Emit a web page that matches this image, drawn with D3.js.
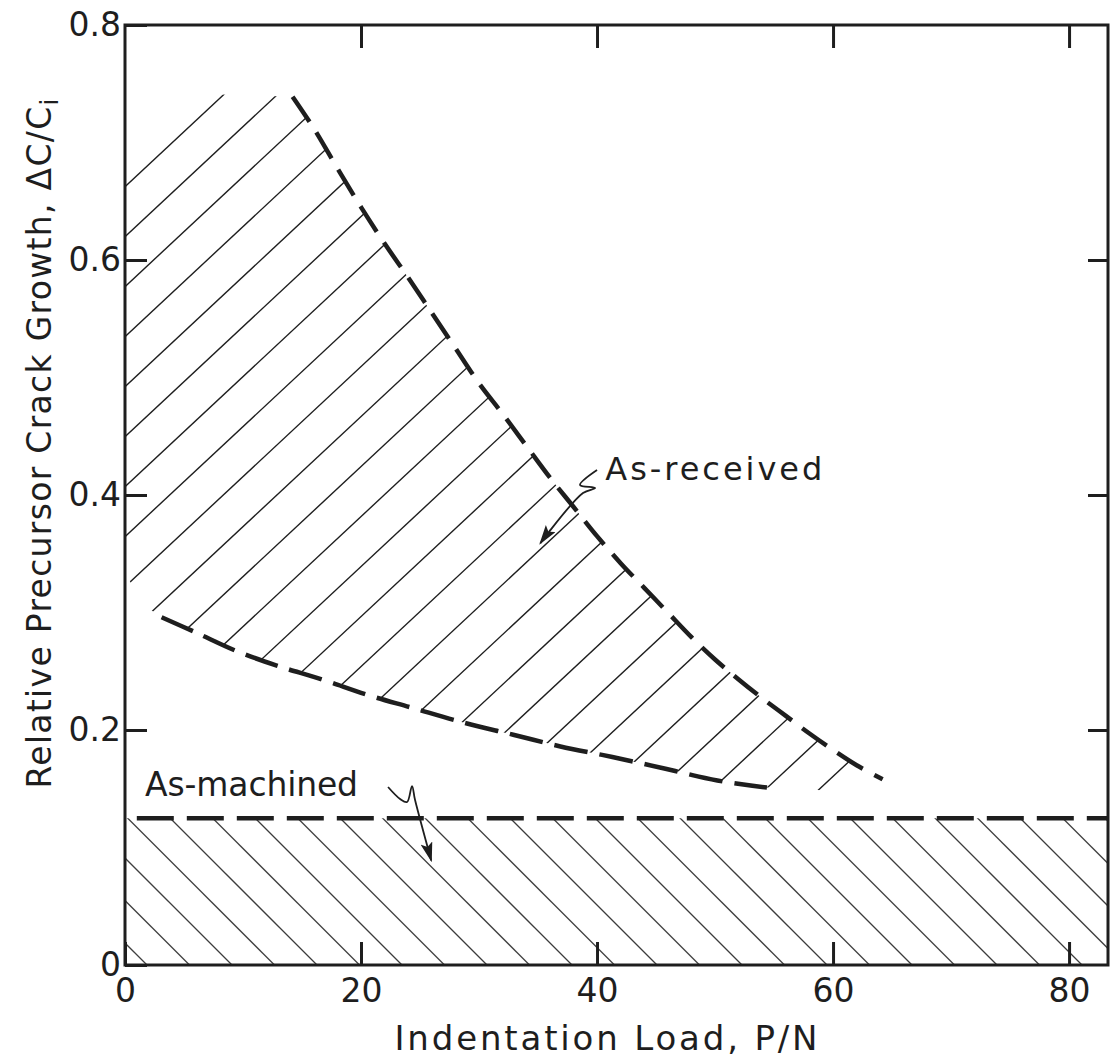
<!DOCTYPE html>
<html><head><meta charset="utf-8">
<script src="https://cdn.jsdelivr.net/npm/d3@7"></script>
<style>
body{margin:0;background:#fff}
svg{display:block}
text{font-family:"DejaVu Sans",sans-serif;fill:#1e1e1e}
</style>
</head><body>
<svg id="c" width="1112" height="1062"></svg>
<script>
// ---------------- data ----------------
const xTicks = [0, 20, 40, 60, 80];
const xTickLabels = ["0", "20", "40", "60", "80"];
const yTicks = [0, 0.2, 0.4, 0.6, 0.8];
const yTickLabels = ["0", "0.2", "0.4", "0.6", "0.8"];

// As-received band: upper (dashed) bound
const receivedUpper = [[14.2,0.739],[16,0.712],[18,0.678],[20,0.645],[22,0.614],[24,0.585],[26,0.555],
  [28,0.525],[30,0.495],[32,0.469],[34,0.442],[36,0.415],[38,0.390],[40,0.365],[42,0.342],[44,0.321],
  [46,0.300],[48,0.279],[50,0.260],[52,0.243],[54,0.227],[56,0.212],[58,0.197],[60,0.183],[62,0.170],[64.2,0.158]];
// As-received band: lower (dashed) bound
const receivedLower = [[3.1,0.296],[6,0.283],[9.5,0.267],[12.8,0.255],[16.7,0.243],[20.5,0.230],[24.3,0.219],
  [28.8,0.206],[32.9,0.196],[36.9,0.186],[41.3,0.177],[45.8,0.167],[50.2,0.157],[54.4,0.151]];
// extra outline points of the hatched as-received area
const receivedLeftEdge = [[0,0.336],[1.2,0.309]];
const receivedRightEdge = [[62.5,0.147]];
const receivedTopEdge = [[7.3,0.741],[0,0.673]];

// As-machined level
const machinedLevel = 0.125;
const machinedStart = 1.0;

// annotations
const receivedLabel = {text:"As-received", x:40.7, y:0.4128};
const receivedPointer = [[40.0,0.4213],[38.56,0.4085],[39.83,0.406],[38.81,0.4017],[35.85,0.3677],[35.2,0.359]];
const machinedLabel = {text:"As-machined", x:1.7, y:0.1435};
const machinedPointer = [[22.29,0.1515],[23.31,0.1413],[23.9,0.1387],[24.32,0.1523],[24.58,0.1404],[25.95,0.089]];

const xTitle = "Indentation Load, P/N";
const yTitle = "Relative Precursor Crack Growth, \u0394C/C";
const yTitleSub = "i";

// ---------------- chart ----------------
const xMax = 83.3;
const x = d3.scaleLinear().domain([0, xMax]).range([125, 1108]);
const y = d3.scaleLinear().domain([0, 0.8]).range([965, 25]);
const ink = "#1e1e1e";
const svg = d3.select("#c");
const defs = svg.append("defs");

const line = d3.line().x(d => x(d[0])).y(d => y(d[1]));

// clip regions
const receivedPoly = [...receivedLeftEdge, ...receivedLower, ...receivedRightEdge,
  ...receivedUpper.slice().reverse(), ...receivedTopEdge];
defs.append("clipPath").attr("id", "clipR").append("path").attr("d", line(receivedPoly) + "Z");
const machinedPoly = [[0,0],[xMax,0],[xMax,machinedLevel],[0,machinedLevel]];
defs.append("clipPath").attr("id", "clipM").append("path").attr("d", line(machinedPoly) + "Z");

// arrow marker
defs.append("marker").attr("id", "arrow").attr("viewBox", "0 0 20 12")
  .attr("refX", 18).attr("refY", 6).attr("markerWidth", 20).attr("markerHeight", 12)
  .attr("markerUnits", "userSpaceOnUse").attr("orient", "auto")
  .append("path").attr("d", "M0,0 L20,6 L0,12 L4,6 Z").attr("fill", ink);

const x0 = x(0), x1 = x(xMax);

// hatch: as-received (rising lines)
const gR = svg.append("g").attr("clip-path", "url(#clipR)");
const t = Math.tan(43 * Math.PI / 180);
const cR0 = 182 + t * 130, dR = 50;
for (let k = -30; k <= 40; k++) {
  const c = cR0 + k * dR;
  gR.append("line").attr("x1", x0).attr("y1", c - t * x0).attr("x2", x1).attr("y2", c - t * x1)
    .attr("stroke", ink).attr("stroke-width", 1.4);
}
// hatch: as-machined (falling lines)
const gM = svg.append("g").attr("clip-path", "url(#clipM)");
const cM0 = 818, dM = 42.5;
for (let k = -40; k <= 10; k++) {
  const c = cM0 + k * dM;
  gM.append("line").attr("x1", x0).attr("y1", c + x0).attr("x2", x1).attr("y2", c + x1)
    .attr("stroke", ink).attr("stroke-width", 1.3).attr("opacity", 0.85);
}

// dashed bounds
svg.append("path").attr("d", d3.line().x(d => x(d[0])).y(d => y(d[1])).curve(d3.curveCatmullRom)(receivedUpper))
  .attr("fill", "none").attr("stroke", ink).attr("stroke-width", 4.5).attr("stroke-dasharray", "30,13");
svg.append("path").attr("d", d3.line().x(d => x(d[0])).y(d => y(d[1])).curve(d3.curveCatmullRom)(receivedLower))
  .attr("fill", "none").attr("stroke", ink).attr("stroke-width", 4.5).attr("stroke-dasharray", "34,12");
svg.append("path").attr("d", line([[machinedStart, machinedLevel],[xMax, machinedLevel]]))
  .attr("fill", "none").attr("stroke", ink).attr("stroke-width", 4.5).attr("stroke-dasharray", "37,13");

// frame
svg.append("rect").attr("x", x0).attr("y", y(0.8)).attr("width", x1 - x0).attr("height", y(0) - y(0.8))
  .attr("fill", "none").attr("stroke", ink).attr("stroke-width", 3);

// axes
function styleAxis(g) {
  g.select(".domain").remove();
  g.selectAll(".tick line").attr("stroke", ink).attr("stroke-width", 3);
  g.selectAll(".tick text").attr("font-size", 33).attr("fill", ink)
    .attr("font-family", '"DejaVu Sans",sans-serif');
}
svg.append("g").attr("transform", `translate(0,${y(0)})`)
  .call(d3.axisBottom(x).tickValues(xTicks).tickSize(-23).tickSizeOuter(0).tickPadding(14)
    .tickFormat((d, i) => xTickLabels[i])).call(styleAxis);
svg.append("g").attr("transform", `translate(0,${y(0.8)})`)
  .call(d3.axisTop(x).tickValues(xTicks.filter(v => v > 0)).tickSize(-23).tickSizeOuter(0).tickFormat(""))
  .call(styleAxis);
svg.append("g").attr("transform", `translate(${x0},0)`)
  .call(d3.axisLeft(y).tickValues(yTicks).tickSize(-22).tickSizeOuter(0).tickPadding(4)
    .tickFormat((d, i) => yTickLabels[i])).call(styleAxis);
svg.append("g").attr("transform", `translate(${x1},0)`)
  .call(d3.axisRight(y).tickValues(yTicks.filter(v => v > 0 && v < 0.8)).tickSize(-20).tickSizeOuter(0).tickFormat(""))
  .call(styleAxis);

// axis titles
svg.append("text").attr("x", 606).attr("y", 1050).attr("text-anchor", "middle")
  .attr("font-size", 34).attr("textLength", 423).attr("lengthAdjust", "spacing").text(xTitle);
const yt = svg.append("text").attr("transform", "translate(51,443) rotate(-90)")
  .attr("text-anchor", "middle").attr("font-size", 33).attr("letter-spacing", "1.3px");
yt.append("tspan").text(yTitle);
yt.append("tspan").attr("font-size", 24).attr("dy", 7).text(yTitleSub);

// annotations
svg.append("text").attr("x", x(receivedLabel.x)).attr("y", y(receivedLabel.y))
  .attr("font-size", 32).attr("textLength", 217).attr("lengthAdjust", "spacing").text(receivedLabel.text);
svg.append("text").attr("x", x(machinedLabel.x)).attr("y", y(machinedLabel.y))
  .attr("font-size", 33).attr("textLength", 213).attr("lengthAdjust", "spacing").text(machinedLabel.text);

const curvy = d3.line().x(d => x(d[0])).y(d => y(d[1])).curve(d3.curveCatmullRom.alpha(0.5));
svg.append("path").attr("d", curvy(receivedPointer)).attr("fill", "none").attr("stroke", ink)
  .attr("stroke-width", 1.8).attr("marker-end", "url(#arrow)");
svg.append("path").attr("d", curvy(machinedPointer)).attr("fill", "none").attr("stroke", ink)
  .attr("stroke-width", 1.8).attr("marker-end", "url(#arrow)");
</script>
</body></html>
